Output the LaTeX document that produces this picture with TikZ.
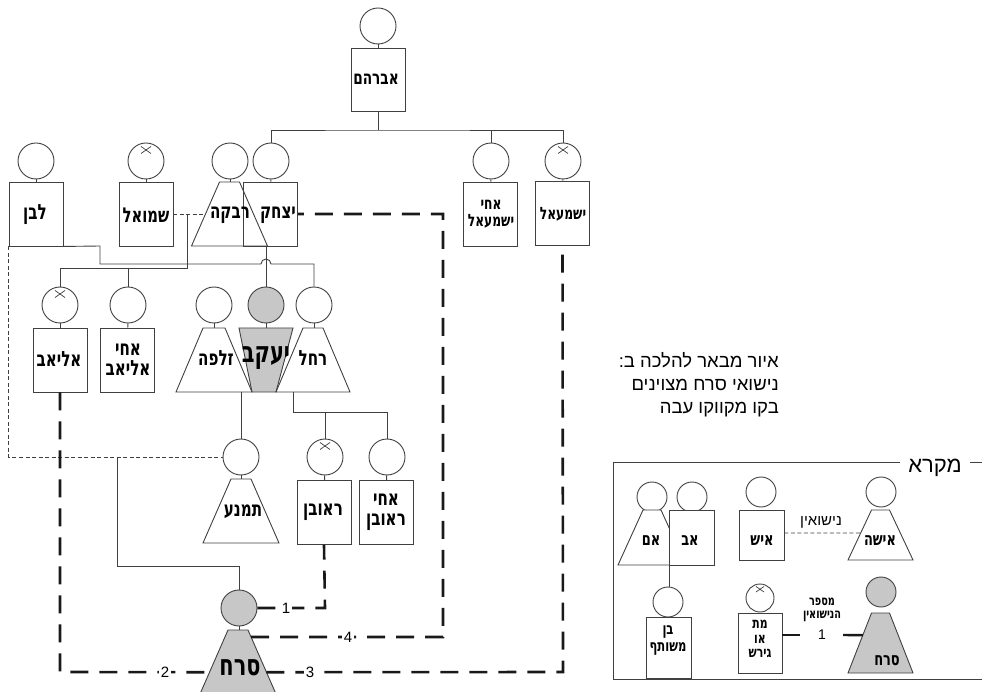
\documentclass[tikz,border=0pt]{standalone}
\usepackage{fontspec}
\setmainfont{Liberation Sans}
\newfontfamily\heb[Script=Hebrew]{Liberation Sans}
\newfontfamily\hebn[Script=Hebrew,FakeStretch=0.72]{DejaVu Sans Bold}
\usetikzlibrary{calc}
\TeXXeTstate=1
\newcommand\RL[1]{\beginR#1\endR}
\newcommand\trapz[7][]{%
  \draw[ln,#1] ({#3-#5},#4) coordinate (#2-tl) -- ({#3+#5},#4) coordinate (#2-tr) -- ({#3+#6},{#4+#7}) coordinate (#2-br) -- ({#3-#6},{#4+#7}) coordinate (#2-bl) -- cycle;
  \coordinate (#2) at (#3,{#4+#7/2});}
\newcommand\xm[1]{\draw[ln,line width=0.7pt] ([shift={(-5,-14.5)}]#1.center) -- ([shift={(5,-7.5)}]#1.center) ([shift={(-5,-7.5)}]#1.center) -- ([shift={(5,-14.5)}]#1.center);}
\begin{document}
\begin{tikzpicture}[x=1pt,y=-1pt,
  ln/.style={draw=black!75,line width=0.9pt},
  hd/.style={circle,draw=black!75,line width=0.9pt,minimum size=36pt,inner sep=0pt,fill=white},
  hs/.style={hd,minimum size=30pt},
  bx/.style={rectangle,draw=black!75,line width=0.9pt,minimum width=54pt,minimum height=64pt,inner sep=0pt,fill=white},
  lbx/.style={bx,minimum width=45pt},
  nm/.style={font=\hebn\fontsize{21}{20}\selectfont,align=center,inner sep=0pt},
  nms/.style={font=\hebn\fontsize{17}{17}\selectfont,align=center,inner sep=0pt},
  nmb/.style={font=\hebn\fontsize{29}{28}\selectfont,align=center,inner sep=0pt},
  lnm/.style={font=\hebn\fontsize{18}{16}\selectfont,align=center,inner sep=0pt},
  marr/.style={draw=black!75,line width=0.8pt,dash pattern=on 4pt off 2.5pt},
  ser/.style={draw=black!90,line width=2.6pt,dash pattern=on 18pt off 11pt},
  numl/.style={fill=white,inner sep=2pt,font=\fontsize{15}{15}\selectfont},
  gr/.style={fill=black!22}]
\useasboundingbox (0,0) rectangle (982,692);
% ---------- generation 1
\node[hd] (h-avr) at (378,26) {};
\node[bx,minimum height=63pt] (avr) at (378,79.5) {};
\draw[ln] (h-avr) -- (avr);
\coordinate (j1) at (378,130);
% ---------- generation 2
\node[hd] (h-lav) at (36,161) {};
\node[bx] (lav) at (36,214) {};
\node[hd] (h-shm) at (146,161) {}; \xm{h-shm}
\node[bx] (shm) at (146,214) {};
\node[hd] (h-riv) at (230,161) {};
\node[hd] (h-yitz) at (271,161) {};
\node[bx] (yitz) at (270.5,214) {};
\trapz{riv}{229.5}{182}{10}{38}{64}
\node[hd] (h-ay) at (491,161) {};
\node[bx] (ay) at (490.5,214) {};
\node[hd] (h-yish) at (563,161) {}; \xm{h-yish}
\node[bx] (yish) at (562.5,213) {};
\draw[ln] (h-lav) -- (lav);
\draw[ln] (h-shm) -- (shm);
\draw[ln] (h-yitz) -- (yitz);
\draw[ln] (h-ay) -- (ay);
\draw[ln] (h-yish) -- (yish);
\draw[ln] (h-riv.south) -- (h-riv.south |- riv-tl);
\draw[ln] (avr) -- (j1);
\draw[ln] (h-yitz.north) |- (j1) -| (h-yish.north);
\draw[ln] (h-ay.north) -- (h-ay.north |- j1);
% ---------- generation 3
\node[hd] (h-eli) at (60,305) {}; \xm{h-eli}
\node[bx] (eli) at (60,360) {};
\node[hd] (h-ae) at (128,305) {};
\node[bx] (ae) at (127.5,360) {};
\node[hd] (h-zil) at (214,305) {};
\trapz{zil}{214}{328}{11}{38}{64}
\node[hd,gr] (h-jac) at (266,305) {};
\draw[ln,gr] (239,328) coordinate (jac-tl) -- (293,328) coordinate (jac-tr) -- (276,392) coordinate (jac-br) -- (252,392) coordinate (jac-bl) -- cycle;
\coordinate (jac) at (266,360);
\node[hd] (h-rach) at (314,305) {};
\trapz{rach}{313}{328}{10}{37}{64}
\draw[ln] (h-eli) -- (eli);
\draw[ln] (h-ae) -- (ae);
\draw[ln] (h-zil.south) -- (h-zil.south |- zil-tl);
\draw[ln] (h-jac.south) -- (h-jac.south |- jac-tl);
\draw[ln] (h-rach.south) -- (h-rach.south |- rach-tl);
% marriage Shmuel - Rivka and their children
\draw[marr] (shm.east) -- ($(riv-tl)!0.5!(riv-bl)$);
\coordinate (m1) at (187,214);
\coordinate (m1b) at (187,268);
\draw[ln] (m1) -- (m1b) -| (h-eli.north);
\draw[ln] (h-ae.north) -- (h-ae.north |- m1b);
% Yitzhak + Rivka -> Yaakov
\coordinate (m2) at (266,246);
\draw[ln] (m2) -- (h-jac.north);
% Lavan -> Rachel (with bridge)
\draw[ln] (lav.south east) -- (100,246) -- (100,264) -- (261,264) arc[start angle=180,end angle=360,radius=5] -| (h-rach.north);
% ---------- generation 4
\node[hd] (h-tim) at (241,457) {};
\trapz{tim}{241}{479}{10}{38}{64}
\node[hd] (h-reu) at (325,457) {}; \xm{h-reu}
\node[bx] (reu) at (324,512.5) {};
\node[hd] (h-ar) at (387,457) {};
\node[bx] (ar) at (386,512.5) {};
\draw[ln] (h-tim.south) -- (h-tim.south |- tim-tl);
\draw[ln] (h-reu) -- (reu);
\draw[ln] (h-ar) -- (ar);
\coordinate (m3) at (241,392);
\draw[ln] (m3) -- (h-tim.north);
\coordinate (m4) at (293,392);
\coordinate (m4b) at (293,412);
\draw[ln] (m4) -- (m4b) -| (h-ar.north);
\draw[ln] (h-reu.north) -- (h-reu.north |- m4b);
% Lavan - Timna marriage, child Serach
\draw[marr] (lav.south west) |- (h-tim.west);
\coordinate (m5) at (117,457);
\coordinate (m5b) at (117,566);
% ---------- Serach
\node[hd,gr] (h-ser) at (239,608) {};
\trapz[gr]{ser}{238}{630}{10}{38}{64}
\draw[ln] (m5) -- (m5b) -| (h-ser.north);
\draw[ln] (h-ser.south) -- (h-ser.south |- ser-tl);
% Serach's marriages
\draw[ser] (h-ser.east) -- (325,608) -- (reu.south);
\draw[ser] ($(ser-tr)!0.11!(ser-br)$) -- (443,637) -- (443,214) -- (yitz.east);
\draw[ser] ($(ser-tr)!0.66!(ser-br)$) -- (563,672) -- (yish.south);
\draw[ser] (eli.south) -- (60,672) -- ($(ser-tl)!0.66!(ser-bl)$);
\node[numl] (n1) at (286,608) {1};
\node[numl] (n4) at (348,637) {4};
\node[numl] (n3) at (310,672) {3};
\node[numl] (n2) at (165,672) {2};
% ---------- names
\node[nm,font=\hebn\fontsize{19}{19}\selectfont] (t-avr) at (376,79) {\RL{אברהם}};
\node[nm] (t-lav) at (35,215) {\RL{לבן}};
\node[nm,font=\hebn\fontsize{20.5}{20}\selectfont] (t-shm) at (146,215) {\RL{שמואל}};
\node[nm] (t-riv) at (230,215) {\RL{רבקה}};
\node[nm] (t-yitz) at (278,215) {\RL{יצחק}};
\node[nms] (t-ay) at (491,214) {\RL{אחי}\\\RL{ישמעאל}};
\node[nms] (t-yish) at (563,214) {\RL{ישמעאל}};
\node[nm] (t-eli) at (59,359) {\RL{אליאב}};
\node[nm] (t-ae) at (128,360) {\RL{אחי}\\\RL{אליאב}};
\node[nm] (t-zil) at (216,358) {\RL{זלפה}};
\node[nmb] (t-jac) at (266,358) {\RL{יעקב}};
\node[nm] (t-rach) at (313,358) {\RL{רחל}};
\node[nm] (t-tim) at (243,512) {\RL{תמנע}};
\node[nm] (t-reu) at (323,512) {\RL{ראובן}};
\node[nm] (t-ar) at (386,512) {\RL{אחי}\\\RL{ראובן}};
\node[nmb] (t-ser) at (240,668) {\RL{סרח}};
% ---------- description
\node[anchor=base east,inner sep=0pt,font=\heb\fontsize{18.5}{18}\selectfont] (d1) at (779,367) {\RL{איור מבאר להלכה ב:}};
\node[anchor=base east,inner sep=0pt,font=\heb\fontsize{18.5}{18}\selectfont] (d2) at (779,390) {\RL{נישואי סרח מצוינים}};
\node[anchor=base east,inner sep=0pt,font=\heb\fontsize{18.5}{18}\selectfont] (d3) at (779,413) {\RL{בקו מקווקו עבה}};
% ---------- legend
\draw[ln] (613,462) rectangle (1000,679);
\node[fill=white,inner xsep=8pt,inner ysep=2pt,font=\heb\fontsize{22}{22}\selectfont] (lg) at (935,468) {\RL{מקרא}};
% parents
\node[hs] (h-lmom) at (652,497) {};
\trapz[fill=white]{lmom}{652}{510}{9}{34}{55}
\node[hs] (h-ldad) at (692,497) {};
\node[lbx,minimum height=55pt] (ldad) at (691.5,537.5) {};
\node[hs] (h-lson) at (668,602) {};
\node[lbx,minimum height=61pt] (lson) at (668.5,647.5) {};
\coordinate (lm) at (669,565);
\draw[ln] (lm) -- (lm |- h-lson.north);
% man / woman
\node[hs] (h-lman) at (761,492) {};
\node[lbx,minimum height=50pt] (lman) at (761.5,535) {};
\node[hs] (h-lwom) at (881,492) {};
\trapz{lwom}{880.5}{510}{9}{32.5}{50}
\draw[marr] (lman.east |- 0,533) -- ($(lwom-tl)!0.46!(lwom-bl)$);
% dead
\node[hs,minimum size=28pt] (h-ldead) at (760,598) {};
\draw[ln,line width=0.7pt] ([shift={(-4,-11.5)}]h-ldead.center) -- ([shift={(4,-6)}]h-ldead.center) ([shift={(-4,-6)}]h-ldead.center) -- ([shift={(4,-11.5)}]h-ldead.center);
\node[lbx,minimum width=44pt,minimum height=60pt] (ldead) at (760,643) {};
% serach legend
\node[hs,gr] (h-lser) at (881,592) {};
\trapz[gr]{lser}{880.5}{613}{9}{32.5}{60}
\coordinate (n1l) at (800,635);
\coordinate (n1r) at (843,635);
\draw[draw=black!90,line width=2.4pt] (ldead.east |- n1l) -- (n1l);
\draw[draw=black!90,line width=2.4pt] (n1r) -- ($(lser-tl)!0.37!(lser-bl)$);
% legend texts
\node[lnm] (lt-mom) at (651,541) {\RL{אם}};
\node[lnm] (lt-dad) at (690,541) {\RL{אב}};
\node[lnm] (lt-man) at (762,541) {\RL{איש}};
\node[lnm] (lt-wom) at (880,541) {\RL{אישה}};
\node[inner sep=0pt,font=\heb\fontsize{15}{15}\selectfont] (lt-mar) at (821,522) {\RL{נישואין}};
\node[lnm,font=\hebn\fontsize{16}{17}\selectfont] (lt-son) at (668,641) {\RL{בן}\\\RL{משותף}};
\node[lnm,font=\hebn\fontsize{15}{14.5}\selectfont] (lt-dead) at (760,639) {\RL{מת}\\\RL{או}\\\RL{גירש}};
\node[lnm,font=\hebn\fontsize{13.5}{13.5}\selectfont] (lt-num) at (822,610) {\RL{מספר}\\\RL{הנישואין}};
\node[inner sep=0pt,font=\fontsize{14}{14}\selectfont] (lt-1) at (822,635) {1};
\node[lnm] (lt-ser) at (887,661) {\RL{סרח}};
\end{tikzpicture}
\end{document}
